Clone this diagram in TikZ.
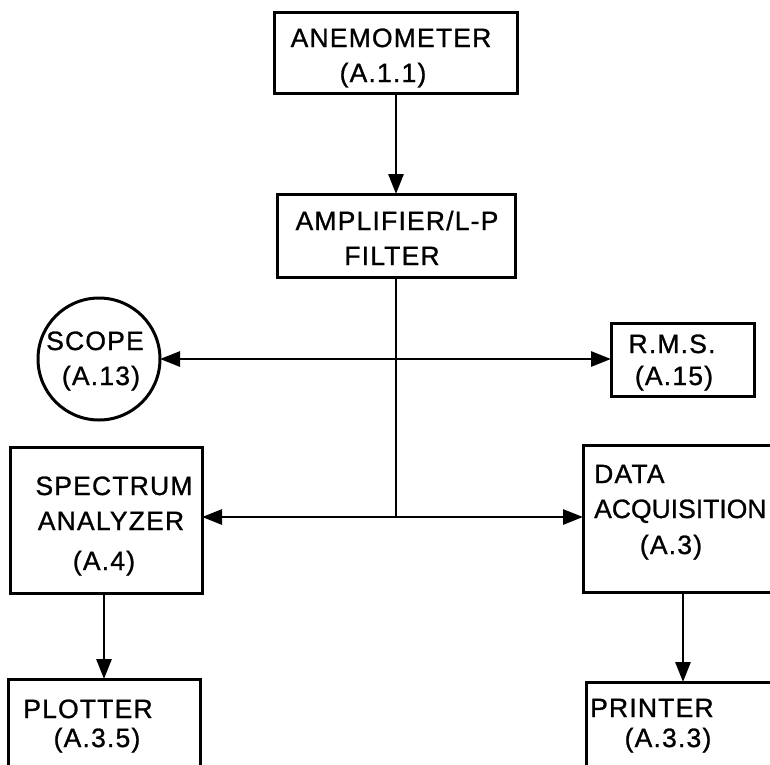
\documentclass[tikz,border=0pt]{standalone}
\usepackage{fontspec}
\setmainfont{Liberation Sans}[LetterSpace=4.5,FakeBold=1]
\usetikzlibrary{arrows.meta}
\begin{document}
\begin{tikzpicture}[x=1pt,y=-1pt,
  box/.style={draw, line width=3pt, rectangle, inner sep=0pt, outer sep=0pt},
  lbl/.style={inner sep=0pt, anchor=base, font=\fontsize{26.5}{30}\selectfont},
  lbll/.style={inner sep=0pt, anchor=base west, font=\fontsize{26.5}{30}\selectfont},
  conn/.style={line width=2.8pt},
  arr/.style={line width=2.8pt, -{Triangle[length=20pt,width=15pt]}}]
\useasboundingbox (0,0) rectangle (770,764);
\clip (0,0) rectangle (770,764);
% boxes
\node[box, minimum width=243pt, minimum height=81pt] (anemo) at (396,52.5) {};
\node[box, minimum width=238pt, minimum height=83pt] (amp) at (396,235.5) {};
\node[draw, line width=3pt, circle, minimum size=122pt, inner sep=0pt, outer sep=0pt] (scope) at (99,359) {};
\node[box, minimum width=143pt, minimum height=73pt] (rms) at (682.5,359.5) {};
\node[box, minimum width=192pt, minimum height=146pt] (spec) at (106,520) {};
\node[box, minimum width=200pt, minimum height=147pt] (daq) at (683,518.5) {};
\node[box, minimum width=192pt, minimum height=120pt] (plotter) at (104,739) {};
\node[box, minimum width=194pt, minimum height=120pt] (printer) at (683,742) {};
% texts
\node[lbl] (t1) at (391,47) {ANEMOMETER};
\node[lbl] (t2) at (383,82) {(A.1.1)};
\node[lbl] (t3) at (397,230) {AMPLIFIER/L-P};
\node[lbl] (t4) at (392,265) {FILTER};
\node[lbl] (t5) at (95,350) {SCOPE};
\node[lbl] (t6) at (101,385) {(A.13)};
\node[lbl] (t7) at (672,353) {R.M.S.};
\node[lbl] (t8) at (674,385) {(A.15)};
\node[lbl] (t9) at (114,495) {SPECTRUM};
\node[lbl] (t10) at (111,530) {ANALYZER};
\node[lbl] (t11) at (104,570) {(A.4)};
\node[lbl] (t12) at (88,718) {PLOTTER};
\node[lbl] (t13) at (97,747) {(A.3.5)};
\node[lbll] (t14) at (594,483) {DATA};
\node[lbll, font=\fontsize{26.5}{30}\selectfont\addfontfeatures{LetterSpace=0}] (t15) at (594,518) {ACQUISITION};
\node[lbl] (t16) at (671,554) {(A.3)};
\node[lbll] (t17) at (590,717) {PRINTER};
\node[lbl] (t18) at (668,747) {(A.3.3)};
% junctions
\coordinate (j1) at (396,359);
\coordinate (j2) at (396,517);
% connectors
\draw[arr] (anemo.south) -- (amp.north);
\draw[conn] (amp.south) -- (j2);
\draw[arr] (j1) -- (scope.east);
\draw[arr] (j1) -- (j1 -| rms.west);
\draw[arr] (j2) -- (j2 -| spec.east);
\draw[arr] (j2) -- (j2 -| daq.west);
\draw[arr] (plotter.north |- spec.south) -- (plotter.north);
\draw[arr] (daq.south) -- (printer.north);
\end{tikzpicture}
\end{document}
